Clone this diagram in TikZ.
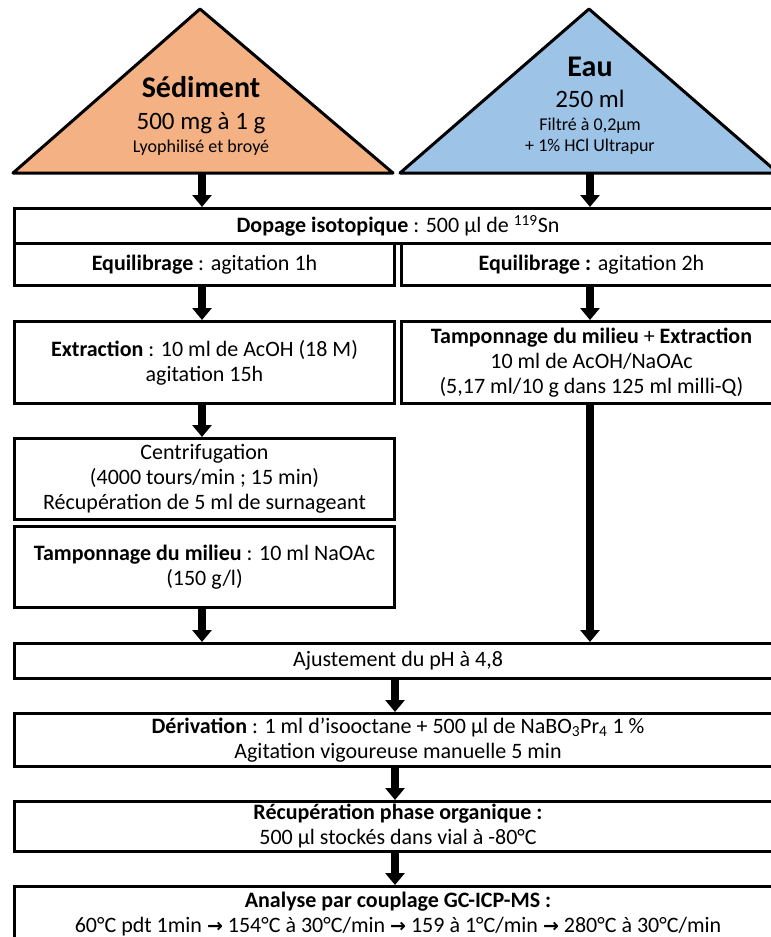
\documentclass[tikz,border=0pt]{standalone}
\usepackage{fontspec}
\setmainfont{Carlito}
\newfontfamily\arrowfont{DejaVu Sans}
\usetikzlibrary{arrows.meta}
\definecolor{sedfill}{HTML}{F4B183}
\definecolor{eaufill}{HTML}{9DC3E6}
\newcommand\boxfont{\fontsize{22}{25}\selectfont}
\newcommand\rarr{{\arrowfont\bfseries\fontsize{19}{25}\selectfont →}}
\begin{document}
\begin{tikzpicture}[x=1pt,y=-1pt,
  box/.style={draw, line width=3pt, rectangle, inner sep=0pt, align=center, font=\boxfont, anchor=north west},
  arr/.style={line width=8pt, -{Triangle[width=19pt,length=12pt]}},
  tri/.style={draw, line width=3pt, line join=round},
  big/.style={font=\bfseries\fontsize{30}{36}\selectfont},
  mid/.style={font=\fontsize{25}{30}\selectfont},
  small/.style={font=\fontsize{18}{21}\selectfont, align=center}]
\clip (0,0) rectangle (771,937);
\fill[white] (0,0) rectangle (771,937);
% triangles
\draw[tri, fill=sedfill] (13,173) -- (200,9) -- (393,173) -- cycle;
\draw[tri, fill=eaufill] (400,173) -- (589,9) -- (778,173) -- cycle;
\node[big] (sedt) at (201,87) {Sédiment};
\node[mid] (sedq) at (201,123) {500 mg à 1 g};
\node[small] (sedd) at (201,148) {Lyophilisé et broyé};
\node[big] (eaut) at (590,67) {Eau};
\node[mid] (eauq) at (590,99) {250 ml};
\node[small] (eaud) at (590,136.5) {Filtré à 0,2µm\\+ 1\% HCl Ultrapur};
% boxes
\node[box, minimum width=767pt, minimum height=35pt] (dop) at (13,207) {\textbf{Dopage isotopique} : 500 µl de \textsuperscript{119}Sn};
\node[box, minimum width=380pt, minimum height=42pt] (eq1) at (13,242) {\textbf{Equilibrage} : agitation 1h};
\node[box, minimum width=380pt, minimum height=42pt] (eq2) at (400,242) {\textbf{Equilibrage :} agitation 2h};
\node[box, minimum width=380pt, minimum height=82pt] (ext) at (13,320) {\textbf{Extraction} : 10 ml de AcOH (18 M)\\agitation 15h};
\node[box, minimum width=380pt, minimum height=82pt] (tmp2) at (400,320) {\textbf{Tamponnage du milieu} + \textbf{Extraction}\\10 ml de AcOH/NaOAc\\(5,17 ml/10 g dans 125 ml milli-Q)};
\node[box, minimum width=380pt, minimum height=81pt] (cen) at (13,437) {Centrifugation\\(4000 tours/min ; 15 min)\\Récupération de 5 ml de surnageant};
\node[box, minimum width=380pt, minimum height=81pt] (tmp1) at (13,525) {\textbf{Tamponnage du milieu} : 10 ml NaOAc\\(150 g/l)};
\node[box, minimum width=767pt, minimum height=35pt] (aj) at (13,642) {Ajustement du pH à 4,8};
\node[box, minimum width=767pt, minimum height=53pt] (der) at (13,712) {\textbf{Dérivation} : 1 ml d’isooctane + 500 µl de NaBO\textsubscript{3}Pr\textsubscript{4} 1 \%\\Agitation vigoureuse manuelle 5 min};
\node[box, minimum width=767pt, minimum height=50pt] (rec) at (13,800) {\textbf{Récupération phase organique :}\\500 µl stockés dans vial à -80°C};
\node[box, minimum width=767pt, minimum height=56pt] (ana) at (13,885) {\textbf{Analyse par couplage GC-ICP-MS :}\\60°C pdt 1min \rarr{} 154°C à 30°C/min \rarr{} 159 à 1°C/min \rarr{} 280°C à 30°C/min};
% arrows
\coordinate (sx) at (202,173);
\coordinate (ex) at (590,173);
\coordinate (mx) at (395,0);
\draw[arr] (sx) -- (sx |- dop.north);
\draw[arr] (ex) -- (ex |- dop.north);
\draw[arr] (eq1.south -| sx) -- (ext.north -| sx);
\draw[arr] (eq2.south -| ex) -- (tmp2.north -| ex);
\draw[arr] (ext.south -| sx) -- (cen.north -| sx);
\draw[arr] (tmp1.south -| sx) -- (aj.north -| sx);
\draw[arr] (tmp2.south -| ex) -- (aj.north -| ex);
\draw[arr] (aj.south -| mx) -- (der.north -| mx);
\draw[arr] (der.south -| mx) -- (rec.north -| mx);
\draw[arr] (rec.south -| mx) -- (ana.north -| mx);
\end{tikzpicture}
\end{document}
